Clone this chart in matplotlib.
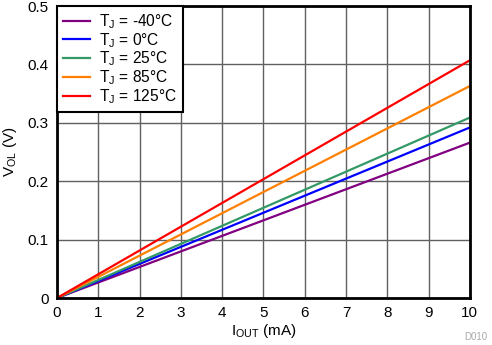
import numpy as np
import matplotlib
matplotlib.use("Agg")
import matplotlib.pyplot as plt

plt.rcParams['font.family'] = ['Liberation Sans', 'DejaVu Sans']
plt.rcParams['mathtext.fontset'] = 'custom'
plt.rcParams['mathtext.rm'] = 'Liberation Sans'

# Output current (mA) and V_OL (V) at each temperature
i_out = [0, 10]
labels = ['-40°C', '0°C', '25°C', '85°C', '125°C']
v_ol_end = [0.266, 0.292, 0.309, 0.363, 0.407]
colors = ['#800080', '#0000ff', '#339966', '#ff7f00', '#ff0000']

fig = plt.figure(figsize=(4.92, 3.45), dpi=100)
ax = fig.add_axes([0.1159, 0.1362, 0.8391, 0.8464])

for lab, v, c in zip(labels, v_ol_end, colors):
    ax.plot(i_out, [0, v], color=c, lw=1.6,
            label=r'T$_\mathregular{J}$ = ' + lab)

ax.set_xlim(0, 10)
ax.set_ylim(0, 0.5)
ax.set_xticks(np.arange(0, 11, 1))
ax.set_yticks(np.arange(0, 0.51, 0.1))
ax.set_yticklabels(['0', '0.1', '0.2', '0.3', '0.4', '0.5'])
ax.tick_params(length=0, labelsize=11, pad=6)
ax.grid(True, color='#606060', lw=1)
ax.set_axisbelow(True)
for s in ax.spines.values():
    s.set_linewidth(2)

ax.set_xlabel(r'I$_\mathregular{OUT}$ (mA)', fontsize=11, labelpad=1)
ax.set_ylabel(r'V$_\mathregular{OL}$ (V)', fontsize=11, labelpad=6)

leg = ax.legend(loc='upper left', fontsize=11.2, fancybox=False,
                framealpha=1, edgecolor='black', borderaxespad=0,
                handlelength=1.7, handletextpad=0.6, labelspacing=0.0,
                borderpad=0.4)
leg.get_frame().set_linewidth(1.5)

fig.text(0.99, 0.01, 'D010', ha='right', va='bottom', fontsize=7, color='#aaaaaa')

fig.savefig('out.png', dpi=100)
